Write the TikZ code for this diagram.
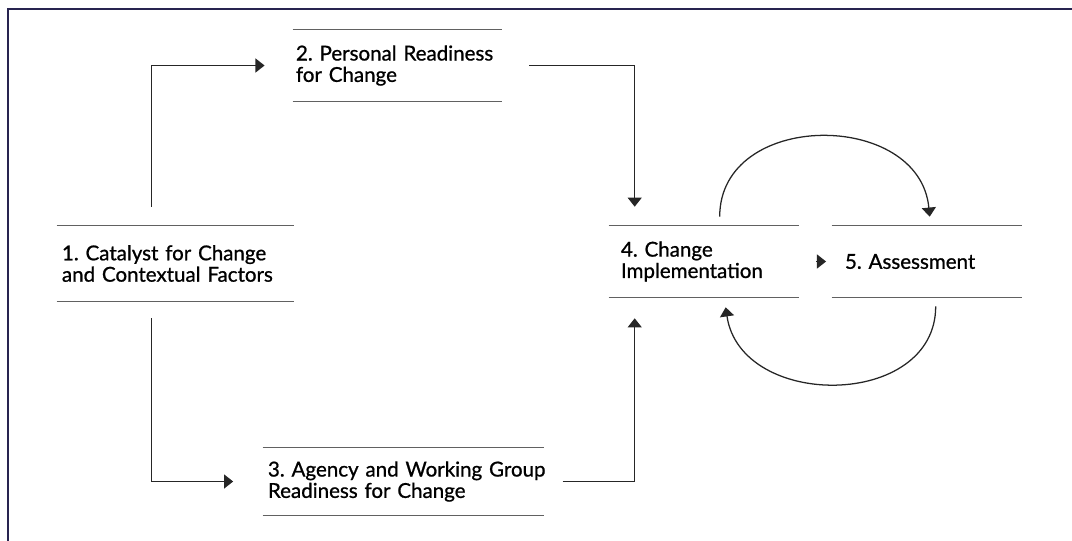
\documentclass[tikz,border=0pt]{standalone}
\usepackage{fontspec}
\setmainfont{Lato}
\newfontfamily\stagefont[FakeBold=0.9]{Lato}
\frenchspacing
\usetikzlibrary{arrows.meta,calc}
\definecolor{framenavy}{RGB}{40,36,80}
\tikzset{
  stage/.style={inner ysep=0pt, align=left, minimum height=1.775cm,
    font=\stagefont\fontsize{14.6}{15.2}\selectfont},
  rule/.style={line width=1.1pt, draw=black!62},
  link/.style={line width=0.9pt, draw=black!85, -{Triangle[width=10pt,length=6.5pt]}},
}

\begin{document}
\begin{tikzpicture}[x=0.025cm, y=-0.025cm]
		\useasboundingbox (0,0) rectangle (1072,540);
		
		% outer frame, cut by the page
		\draw[line width=1.8pt, draw=framenavy] (1100,9) -- (8,9) -- (8,560);
		
		% stages
		\node[stage, text width=5.675cm, inner xsep=0.125cm, minimum height=1.875cm] (b1) at (175.5,263.5) {1. Catalyst for Change\\and Contextual Factors};
		\node[stage, text width=5.075cm, inner xsep=0.075cm] (b2) at (397.5,65.5) {2. Personal Readiness\\for Change\\[4pt]};
		\node[stage, text width=6.775cm, inner xsep=0.125cm, minimum height=1.675cm] (b3) at (403.5,481.5) {\mbox{3. Agency and Working Group}\\Readiness for Change};
		\node[stage, text width=4.15cm, inner xsep=0.3cm] (b4) at (704,261.5) {4. Change\\Implementation};
		\node[stage, text width=4.1cm, inner xsep=0.325cm] (b5) at (927,261.5) {5. Assessment};
		
		\foreach \n in {b1,b2,b3,b4,b5}
			\draw[rule] (\n.north west) -- (\n.north east) (\n.south west) -- (\n.south east);
		
		% connectors
		\draw[link] ([shift={(95,-19)}]b1.north west) |- ([xshift=-20]b2.west);
		\draw[link] ([shift={(95,17)}]b1.south west) |- ([xshift=-21]b3.west);
		\draw[link] ([xshift=19]b2.east) -| ([shift={(26,-19)}]b4.north west);
		\draw[link] ([xshift=13]b3.east) -| ([shift={(26,21)}]b4.south west);
		\draw[link] ([xshift=12]b4.east) -- ([xshift=-4]b5.west);
		
		% feedback loop
		\draw[link] ([shift={(111,-9)}]b4.north west) .. controls +(0,-107) and +(-10,-107) .. ([shift={(98,-9)}]b5.north west);
		\draw[link] ([shift={(104,9)}]b5.south west) .. controls +(0,103) and +(15,103) .. ([shift={(117,10)}]b4.south west);
		
	\end{tikzpicture}
\end{document}
